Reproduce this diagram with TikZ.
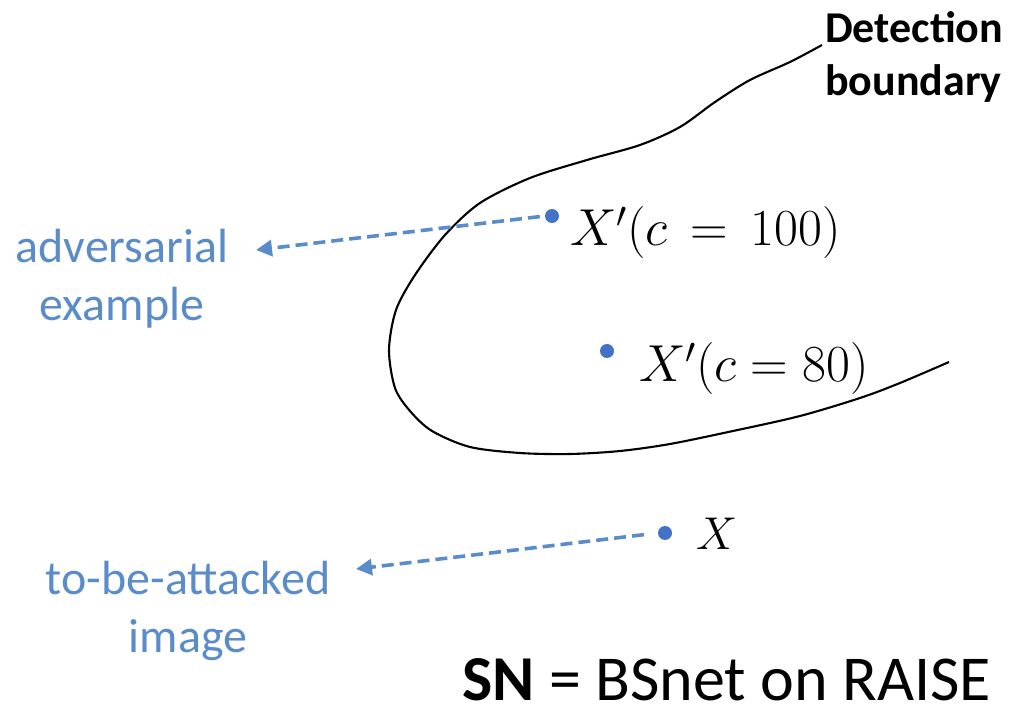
\RequirePackage{fix-cm}
\documentclass[tikz,border=0pt]{standalone}
\usepackage{fontspec}
\newfontfamily\carlitofont{Carlito}
\usetikzlibrary{arrows.meta}
\definecolor{dotblue}{RGB}{68,114,196}
\definecolor{lblblue}{RGB}{91,140,202}
\tikzset{
  pt/.style={circle,fill=dotblue,inner sep=0pt,minimum size=14pt},
  mathlbl/.style={anchor=base west,inner sep=0pt,font=\fontsize{52}{60}\selectfont},
  bluelbl/.style={align=center,text=lblblue,inner sep=0pt,font=\carlitofont\fontsize{48}{58}\selectfont},
  darrow/.style={draw=lblblue,line width=3.6pt,dash pattern=on 12pt off 6pt,-{Triangle[length=16pt,width=16pt]}},
  boundary/.style={draw=black,line width=2.1pt}
}
\begin{document}
\begin{tikzpicture}[x=1pt,y=-1pt]
\useasboundingbox (0,0) rectangle (1010,708);
% boundary curve
\draw[boundary] plot[smooth,tension=0.5] coordinates {(822,45) (790,62) (750,80) (715,102) (680,127) (640,145) (587,160) (530,178) (480,203) (445,235) (415,275) (396,310) (389,350) (395,388) (410,411) (432,431) (470,447) (520,453) (570,454) (620,451) (670,444) (733,431) (800,416) (860,398) (900,383) (949,362)};
% points
\node[pt] (p100) at (552,216) {};
\node[pt] (p80) at (607,351) {};
\node[pt] (p0) at (665,533) {};
\node[mathlbl] (l100) at (570,246) {$X'(c\,=\,100)$};
\node[mathlbl] (l80) at (639,382) {$X'(c=80)$};
\node[mathlbl,font=\fontsize{46}{54}\selectfont] (l0) at (696,550) {$X$};
% labels
\node[bluelbl] (adv) at (122,279) {adversarial\\example};
\node[bluelbl] (tba) at (188,611) {to-be-attacked\\image};
\node[anchor=west,align=left,inner sep=0pt,font=\carlitofont\bfseries\fontsize{44}{53}\selectfont] (det) at (825,57) {Detection\\boundary};
\node[anchor=base west,inner sep=0pt,font=\carlitofont\fontsize{64}{70}\selectfont] (sn) at (462,700) {\textbf{SN} = BSnet on RAISE};
% arrow tips
\coordinate (advtip) at (256,250);
\coordinate (tbatip) at (356,569);
\draw[darrow,shorten <=5pt] (p100.west) -- (advtip);
\draw[darrow,shorten <=14pt] (p0.west) -- (tbatip);
\end{tikzpicture}
\end{document}
